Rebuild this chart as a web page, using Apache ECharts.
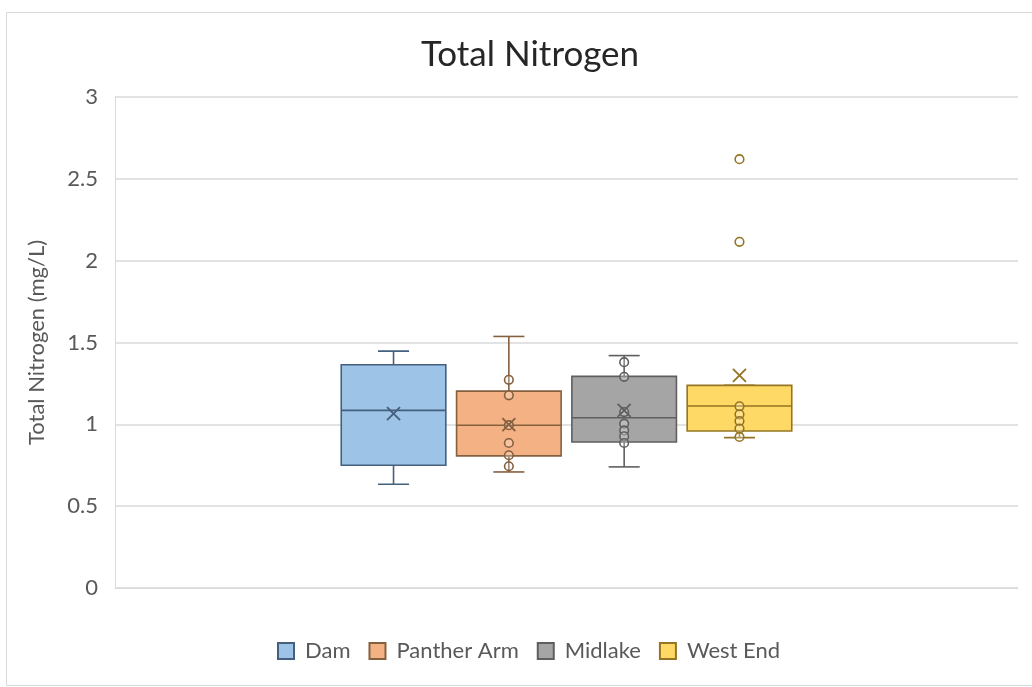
<!DOCTYPE html>
<html>
<head>
<meta charset="utf-8">
<title>Total Nitrogen</title>
<script src="https://cdn.jsdelivr.net/npm/echarts@6/dist/echarts.min.js"></script>
<style>
  html, body { margin: 0; padding: 0; background: #ffffff; }
  #chart { width: 1032px; height: 687px; }
</style>
</head>
<body>
<div id="chart"></div>
<script>
// Sampling sites
const sites = ['Dam', 'Panther Arm', 'Midlake', 'West End'];

// Box-and-whisker statistics per site (mg/L)
const whiskerLow  = [0.634, 0.709, 0.740, 0.919];
const quartile1   = [0.750, 0.807, 0.892, 0.959];
const medians     = [1.085, 0.994, 1.040, 1.112];
const quartile3   = [1.364, 1.203, 1.293, 1.238];
const whiskerHigh = [1.447, 1.537, 1.420, 1.238];
const means       = [1.065, 0.998, 1.085, 1.299];

// Individual samples drawn inside the whiskers, and outliers beyond them
const innerPoints = [
  [],
  [1.272, 1.177, 0.995, 0.886, 0.811, 0.744],
  [1.380, 1.290, 1.075, 1.004, 0.963, 0.927, 0.886],
  [1.110, 1.061, 1.020, 0.974, 0.923]
];
const outliers = [
  [],
  [],
  [],
  [2.620, 2.115]
];

// Y axis ticks
const yTicks = [0, 0.5, 1, 1.5, 2, 2.5, 3];

const fills = ['#9dc3e6', '#f4b183', '#a5a5a5', '#ffd966'];
const strokes = ['#44607e', '#85603f', '#5f5f5f', '#957523'];

function renderBox(params, api) {
  const s = params.seriesIndex;
  const band = api.size([1, 0])[0];
  const cx = api.coord([0, 0])[0] + (s - 1.5) * band * 0.1277;
  const half = band * 0.0579;
  const capHalf = band * 0.0172;
  const y = v => api.coord([0, v])[1];
  const lo = api.value(1), q1 = api.value(2), md = api.value(3),
        q3 = api.value(4), hi = api.value(5), mn = api.value(6);
  const line = strokes[s];
  const lw = 1.6;
  const children = [];

  // whiskers with caps
  children.push({ type: 'line', shape: { x1: cx, y1: y(q3), x2: cx, y2: y(hi) }, style: { stroke: line, lineWidth: lw } });
  children.push({ type: 'line', shape: { x1: cx - capHalf, y1: y(hi), x2: cx + capHalf, y2: y(hi) }, style: { stroke: line, lineWidth: lw } });
  children.push({ type: 'line', shape: { x1: cx, y1: y(q1), x2: cx, y2: y(lo) }, style: { stroke: line, lineWidth: lw } });
  children.push({ type: 'line', shape: { x1: cx - capHalf, y1: y(lo), x2: cx + capHalf, y2: y(lo) }, style: { stroke: line, lineWidth: lw } });

  // box
  children.push({ type: 'rect', shape: { x: cx - half, y: y(q3), width: half * 2, height: y(q1) - y(q3) },
    style: { fill: fills[s], stroke: line, lineWidth: lw } });
  // median
  children.push({ type: 'line', shape: { x1: cx - half, y1: y(md), x2: cx + half, y2: y(md) }, style: { stroke: line, lineWidth: lw } });

  // samples
  innerPoints[s].concat(outliers[s]).forEach(v => {
    children.push({ type: 'circle', shape: { cx: cx, cy: y(v), r: 4.3 },
      style: { fill: 'rgba(255,255,255,0.25)', stroke: line, lineWidth: 1.6 } });
  });

  // mean marker (x)
  const m = 6.5, my = y(mn);
  children.push({ type: 'line', shape: { x1: cx - m, y1: my - m, x2: cx + m, y2: my + m }, style: { stroke: line, lineWidth: 1.8 } });
  children.push({ type: 'line', shape: { x1: cx - m, y1: my + m, x2: cx + m, y2: my - m }, style: { stroke: line, lineWidth: 1.8 } });

  return { type: 'group', children: children };
}

const series = sites.map((name, i) => ({
  name: name,
  type: 'custom',
  renderItem: renderBox,
  itemStyle: { color: fills[i], borderColor: strokes[i], borderWidth: 1 },
  encode: { x: 0, y: [1, 2, 3, 4, 5] },
  data: [[0, whiskerLow[i], quartile1[i], medians[i], quartile3[i], whiskerHigh[i], means[i]]]
}));

const chart = echarts.init(document.getElementById('chart'), null, { renderer: 'canvas' });
const FONT = 'Lato, "Open Sans", sans-serif';

chart.setOption({
  animation: false,
  backgroundColor: '#ffffff',
  textStyle: { fontFamily: FONT },
  graphic: [{
    type: 'rect',
    shape: { x: 6.5, y: 12.5, width: 1040, height: 673 },
    style: { fill: 'none', stroke: '#d9d9d9', lineWidth: 1 },
    silent: true
  }],
  title: {
    text: 'Total Nitrogen',
    left: 525,
    top: 32,
    textAlign: 'center',
    textStyle: { fontFamily: FONT, fontSize: 35, fontWeight: 'normal', color: '#262626' }
  },
  legend: {
    data: sites,
    left: 272,
    top: 635,
    icon: 'rect',
    itemWidth: 16,
    itemHeight: 16,
    itemGap: 18,
    textStyle: { fontFamily: FONT, fontSize: 22, color: '#595959', padding: [0, 0, 0, 6] }
  },
  grid: { left: 115, right: 14, top: 97, bottom: 99, containLabel: false },
  xAxis: {
    type: 'category',
    data: [''],
    axisLine: { show: true, lineStyle: { color: '#d9d9d9', width: 1 } },
    axisTick: { show: false },
    axisLabel: { show: false },
    splitLine: { show: false }
  },
  yAxis: {
    type: 'value',
    min: yTicks[0],
    max: yTicks[yTicks.length - 1],
    interval: 0.5,
    name: 'Total Nitrogen (mg/L)',
    nameLocation: 'middle',
    nameGap: 67,
    nameTextStyle: { fontFamily: FONT, fontSize: 22, color: '#595959' },
    axisLine: { show: true, lineStyle: { color: '#d9d9d9', width: 1 } },
    axisTick: { show: false },
    axisLabel: { color: '#595959', fontSize: 22, margin: 17, fontFamily: FONT },
    splitLine: { lineStyle: { color: '#d9d9d9', width: 1.5 } }
  },
  series: series
});
</script>
</body>
</html>
